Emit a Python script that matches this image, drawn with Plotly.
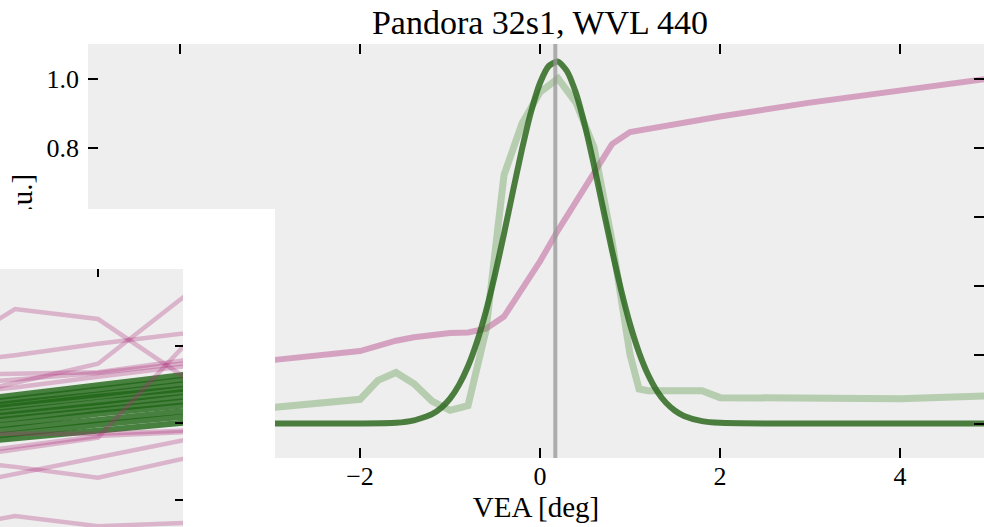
import plotly.graph_objects as go

# ---------------- main panel data ----------------
title_text = "Pandora 32s1, WVL 440"
x_title = "VEA [deg]"
y_title = "Intensity [a.u.]"

vea_ref = [-5, -4, -3, -2, -1.8, -1.6, -1.4, -1.2, -1.0, -0.8, -0.6, -0.4, -0.2,
           0.0, 0.2, 0.4, 0.6, 0.8, 1.0, 2, 3, 4, 5]
ref_signal = [0.15, 0.165, 0.183, 0.21, 0.225, 0.24, 0.25, 0.258, 0.262, 0.264,
              0.275, 0.31, 0.39, 0.47, 0.56, 0.645, 0.73, 0.81, 0.845, 0.89,
              0.93, 0.965, 1.0]

vea_meas = [-5, -4, -3, -2, -1.8, -1.6, -1.4, -1.2, -1.0, -0.8, -0.6, -0.4, -0.2,
            0.0, 0.2, 0.4, 0.6, 0.8, 0.9, 1.0, 1.1, 1.2, 1.4, 1.6, 1.8, 2, 3, 4, 5]
meas_signal = [0.03, 0.038, 0.046, 0.07, 0.125, 0.148, 0.115, 0.065, 0.038, 0.052,
               0.27, 0.72, 0.87, 0.96, 1.0, 0.93, 0.80, 0.53, 0.36, 0.20, 0.10,
               0.095, 0.095, 0.095, 0.095, 0.075, 0.072, 0.072, 0.08]

vea_fit = [-5.0, -2.0, -1.6, -1.4, -1.2, -1.1, -1.0, -0.9, -0.8, -0.7, -0.6, -0.5,
           -0.4, -0.3, -0.2, -0.1, 0.0, 0.1, 0.2, 0.3, 0.4, 0.5, 0.6, 0.7, 0.8,
           0.9, 1.0, 1.1, 1.2, 1.3, 1.4, 1.5, 1.6, 1.8, 2.0, 2.5, 5.0]
fit_signal = [0.0, 0.0, 0.002, 0.009, 0.027, 0.045, 0.072, 0.112, 0.166, 0.237,
              0.326, 0.432, 0.550, 0.674, 0.795, 0.903, 0.987, 1.037, 1.049,
              1.021, 0.957, 0.862, 0.748, 0.624, 0.502, 0.388, 0.288, 0.206,
              0.142, 0.094, 0.060, 0.037, 0.022, 0.007, 0.002, 0.0, 0.0]

peak_center = 0.17

# ---------------- inset data ----------------
inset_x = [-1, 0, 1, 2, 3]
inset_green = [
    [1.23, 1.36, 1.49, 1.62, 1.75],
    [1.18, 1.31, 1.44, 1.56, 1.68],
    [1.13, 1.26, 1.37, 1.50, 1.63],
    [1.10, 1.22, 1.34, 1.44, 1.55],
    [1.05, 1.16, 1.27, 1.40, 1.52],
    [1.00, 1.11, 1.23, 1.34, 1.45],
    [0.95, 1.06, 1.16, 1.28, 1.40],
    [0.88, 0.99, 1.12, 1.22, 1.33],
    [0.82, 0.93, 1.03, 1.15, 1.27],
    [0.76, 0.86, 0.98, 1.08, 1.18],
    [0.70, 0.80, 0.89, 1.00, 1.10],
]
inset_pink = [
    [1.81, 2.48, 2.35, 1.62, 0.90],
    [1.27, 1.52, 1.77, 2.61, 3.45],
    [1.75, 1.88, 2.03, 2.16, 2.29],
    [1.62, 1.64, 1.66, 1.81, 1.95],
    [1.48, 1.56, 1.65, 1.77, 1.89],
    [1.36, 1.46, 1.60, 1.73, 1.86],
    [0.50, 0.66, 0.81, 1.96, 3.10],
    [0.86, 0.86, 0.86, 0.90, 0.94],
    [0.55, 0.69, 0.83, 0.88, 0.93],
    [0.12, 0.34, 0.56, 0.77, 0.98],
    [0.55, 0.43, 0.29, 0.53, 0.77],
    [-0.40, -0.21, -0.34, -0.30, -0.26],
]

PINK = "rgba(173,48,123,0.4)"
LIGHT_GREEN = "rgba(98,155,80,0.4)"
DARK_GREEN = "rgba(39,100,25,0.82)"
INSET_GREEN = "rgba(30,100,20,0.8)"
INSET_PINK = "rgba(173,48,123,0.3)"
FONT = "Liberation Serif"
W, H = 984, 527

fig = go.Figure()

# main panel
fig.add_trace(go.Scatter(x=vea_ref, y=ref_signal, mode="lines",
                         line=dict(color=PINK, width=6), xaxis="x", yaxis="y"))
fig.add_trace(go.Scatter(x=vea_meas, y=meas_signal, mode="lines",
                         line=dict(color=LIGHT_GREEN, width=7), xaxis="x", yaxis="y"))
fig.add_trace(go.Scatter(x=vea_fit, y=fit_signal, mode="lines",
                         line=dict(color=DARK_GREEN, width=6, shape="spline", smoothing=0.6),
                         xaxis="x", yaxis="y"))
# axis holding the rotated y label (drawn inside the main panel's layer)
fig.add_trace(go.Scatter(x=[], y=[], xaxis="x", yaxis="y4", hoverinfo="skip"))

# white overlay box panel
fig.add_trace(go.Scatter(x=[], y=[], xaxis="x2", yaxis="y2", hoverinfo="skip"))

# inset panel
for ys in inset_green:
    fig.add_trace(go.Scatter(x=inset_x, y=ys, mode="lines",
                             line=dict(color=INSET_GREEN, width=6), xaxis="x3", yaxis="y3"))
for ys in inset_pink:
    fig.add_trace(go.Scatter(x=inset_x, y=ys, mode="lines",
                             line=dict(color=INSET_PINK, width=4.5), xaxis="x3", yaxis="y3"))

fig.add_vline(x=peak_center, line_color="rgba(150,150,150,0.75)", line_width=4)

fig.add_shape(type="rect", xref="x2", yref="y2", x0=0, x1=1, y0=0, y1=1,
              fillcolor="white", line_width=0, layer="below")

main_x0 = 88 / W
main_y0, main_y1 = (H - 458) / H, (H - 44) / H
tick_common = dict(ticks="inside", ticklen=10, tickwidth=1.5, tickcolor="black",
                   mirror="ticks", showline=False, showgrid=False, zeroline=False,
                   tickfont=dict(family=FONT, size=26, color="black"))

fig.update_layout(
    width=W, height=H,
    margin=dict(l=0, r=0, t=0, b=0),
    paper_bgcolor="white", plot_bgcolor="#eeeeee",
    showlegend=False,
    title=dict(text=title_text, x=540 / W, xanchor="center", y=1 - 22 / H,
               yanchor="middle", font=dict(family=FONT, size=34, color="black")),
    xaxis=dict(domain=[main_x0, 1], range=[-5.022, 4.933], anchor="y",
               tick0=0, dtick=2, ticklabelstandoff=0,
               title=dict(text=x_title, font=dict(family=FONT, size=29, color="black"),
                          standoff=0),
               **tick_common),
    yaxis=dict(domain=[main_y0, main_y1], range=[-0.1, 1.1], anchor="x",
               tick0=0, dtick=0.2, tickformat=".1f", ticklabelstandoff=8,
               **tick_common),
    yaxis4=dict(overlaying="y", anchor="free", position=0.038, side="left",
                range=[-0.1, 1.1], tickvals=[0.465], ticktext=[y_title], tickangle=-90,
                ticks="", showgrid=False, zeroline=False, showline=False,
                tickfont=dict(family=FONT, size=29, color="black")),
    xaxis2=dict(domain=[0, 275 / W], range=[0, 1], anchor="y2", visible=False),
    yaxis2=dict(domain=[0, (H - 209) / H], range=[0, 1], anchor="x2", visible=False),
    xaxis3=dict(domain=[0, 183 / W], range=[-0.181, 2.024], anchor="y3", side="top",
                ticks="inside", ticklen=8, tickwidth=1.5, tickcolor="black",
                tickvals=[1], showticklabels=False, showgrid=False, zeroline=False),
    yaxis3=dict(domain=[0, (H - 269) / H], range=[-0.351, 3.0], anchor="x3", side="right",
                ticks="inside", ticklen=8, tickwidth=1.5, tickcolor="black",
                tickvals=[0, 1, 2, 3], showticklabels=False, showgrid=False, zeroline=False),
)

fig.write_html("out.html")
